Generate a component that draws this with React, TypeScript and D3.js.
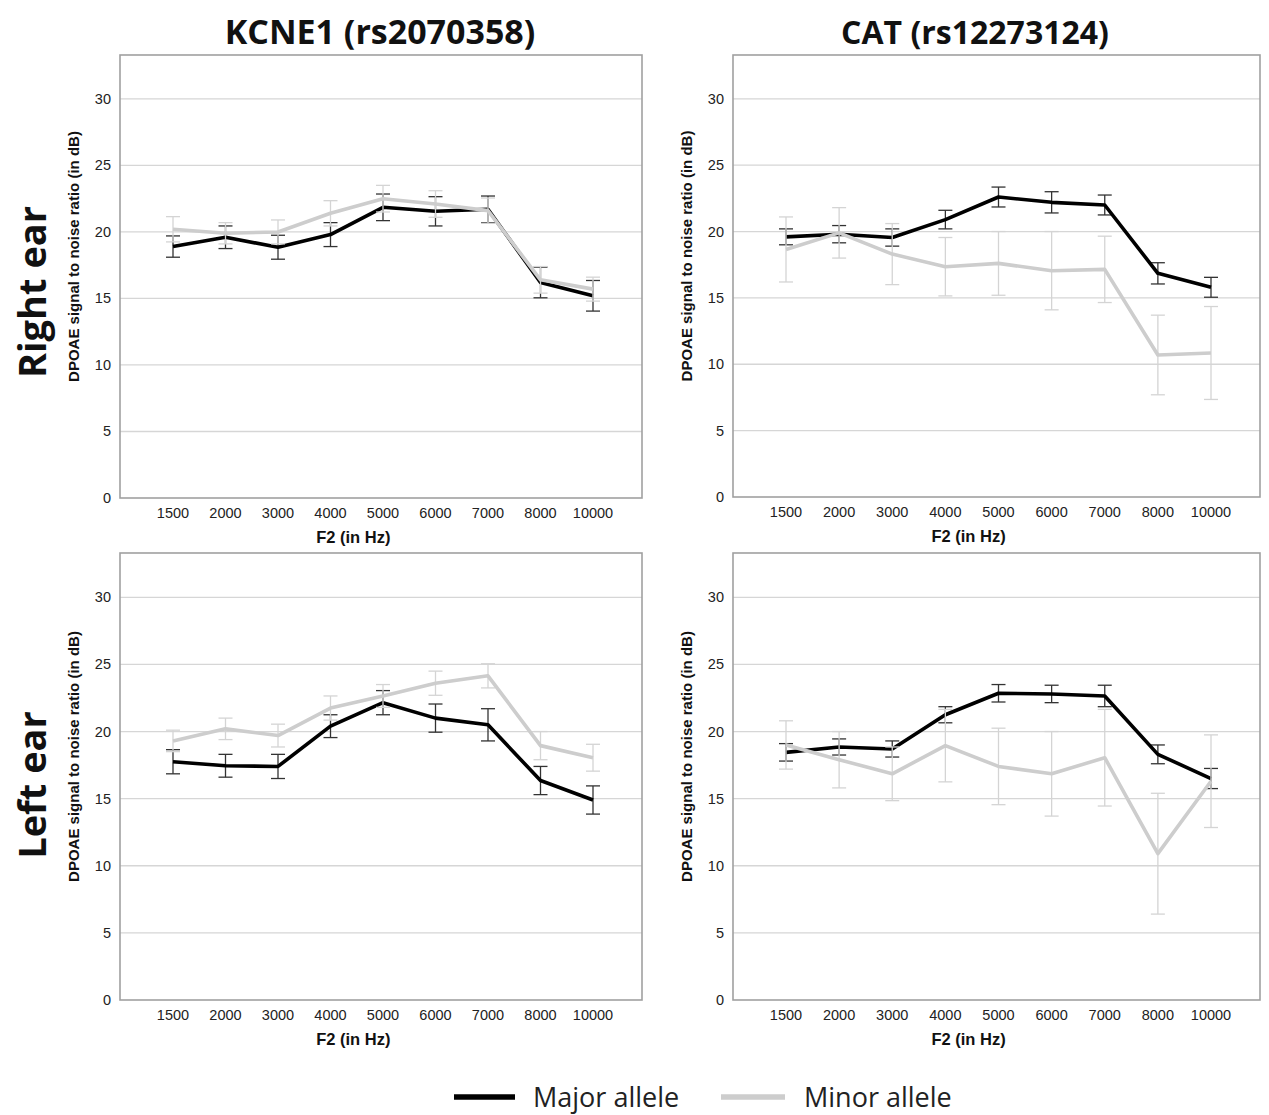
import React from "react";
import * as d3 from "d3";

// F2 frequencies (categorical x axis)
const freqs = ["1500", "2000", "3000", "4000", "5000", "6000", "7000", "8000", "10000"];
const yTicks = [0, 5, 10, 15, 20, 25, 30];

// KCNE1 (rs2070358), right ear
const kcneRightMajor = [18.9, 19.6, 18.85, 19.8, 21.85, 21.55, 21.7, 16.2, 15.2];
const kcneRightMajorErr = [0.8, 0.85, 0.9, 0.9, 1.0, 1.1, 1.0, 1.15, 1.15];
const kcneRightMinor = [20.2, 19.9, 20.0, 21.4, 22.5, 22.1, 21.6, 16.4, 15.7];
const kcneRightMinorErr = [0.95, 0.8, 0.9, 0.95, 1.0, 1.0, 0.95, 1.0, 0.9];

// CAT (rs12273124), right ear
const catRightMajor = [19.6, 19.8, 19.55, 20.9, 22.6, 22.2, 22.0, 16.85, 15.8];
const catRightMajorErr = [0.6, 0.65, 0.65, 0.7, 0.75, 0.8, 0.75, 0.8, 0.75];
const catRightMinor = [18.65, 19.9, 18.3, 17.35, 17.6, 17.05, 17.15, 10.7, 10.85];
const catRightMinorErr = [2.45, 1.9, 2.3, 2.2, 2.4, 2.95, 2.5, 3.0, 3.5];

// KCNE1 (rs2070358), left ear
const kcneLeftMajor = [17.75, 17.45, 17.4, 20.4, 22.15, 21.0, 20.5, 16.35, 14.9];
const kcneLeftMajorErr = [0.9, 0.85, 0.9, 0.85, 0.9, 1.05, 1.2, 1.05, 1.05];
const kcneLeftMinor = [19.3, 20.2, 19.7, 21.75, 22.65, 23.6, 24.15, 18.95, 18.05];
const kcneLeftMinorErr = [0.8, 0.8, 0.85, 0.9, 0.85, 0.9, 0.9, 1.05, 1.0];

// CAT (rs12273124), left ear
const catLeftMajor = [18.45, 18.85, 18.7, 21.25, 22.85, 22.8, 22.65, 18.3, 16.5];
const catLeftMajorErr = [0.65, 0.6, 0.6, 0.6, 0.65, 0.65, 0.8, 0.7, 0.75];
const catLeftMinor = [19.0, 17.9, 16.85, 18.95, 17.4, 16.85, 18.05, 10.9, 16.3];
const catLeftMinorErr = [1.8, 2.1, 2.0, 2.7, 2.85, 3.15, 3.6, 4.5, 3.45];

const MAJOR = "#000000";
const MINOR = "#cdcdcd";
const MAJOR_ERR = "#333333";
const MINOR_ERR = "#d4d4d4";

const axisFont = "'Liberation Sans', Arial, sans-serif";
const bigFont = "'Open Sans', sans-serif";

type PanelProps = {
  left: number; top: number; right: number; bottom: number;
  major: number[]; majorErr: number[]; minor: number[]; minorErr: number[];
};

const Series = ({ x, y, vals, errs, color, errColor }) => {
  const line = d3.line<number>().x((_, i) => x(freqs[i])).y(d => y(d));
  return (
    <g>
      {vals.map((v, i) => {
        const cx = x(freqs[i]);
        const lo = y(v - errs[i]);
        const hi = y(v + errs[i]);
        return (
          <g key={i} stroke={errColor} strokeWidth={1.3}>
            <line x1={cx} x2={cx} y1={lo} y2={hi} />
            <line x1={cx - 7} x2={cx + 7} y1={lo} y2={lo} />
            <line x1={cx - 7} x2={cx + 7} y1={hi} y2={hi} />
          </g>
        );
      })}
      <path d={line(vals) || ""} fill="none" stroke={color} strokeWidth={3.6} strokeLinejoin="round" />
    </g>
  );
};

const Panel = ({ left, top, right, bottom, major, majorErr, minor, minorErr }: PanelProps) => {
  const y = d3.scaleLinear().domain([0, 33.3]).range([bottom, top]);
  const x = d3.scalePoint<string>().domain(freqs).range([left + 53, right - 49]);
  const w = right - left;
  return (
    <g>
      {yTicks.filter(t => t > 0).map(t => (
        <line key={t} x1={left} x2={right} y1={y(t)} y2={y(t)} stroke="#d6d6d6" strokeWidth={1.3} />
      ))}
      <rect x={left} y={top} width={w} height={bottom - top} fill="none" stroke="#a0a0a0" strokeWidth={1.6} />
      {yTicks.map(t => (
        <text key={t} x={left - 9} y={y(t) + 5} textAnchor="end" fontFamily={axisFont} fontSize={14.5} fill="#222">{t}</text>
      ))}
      {freqs.map(f => (
        <text key={f} x={x(f)} y={bottom + 20} textAnchor="middle" fontFamily={axisFont} fontSize={14.5} fill="#222">{f}</text>
      ))}
      <text x={left + 0.447 * w} y={bottom + 45} textAnchor="middle" fontFamily={axisFont} fontWeight="bold" fontSize={16.5} fill="#111">F2 (in Hz)</text>
      <text transform={`translate(${left - 41},${(top + bottom) / 2 - 20}) rotate(-90)`} textAnchor="middle" fontFamily={axisFont} fontWeight="bold" fontSize={15} fill="#111">DPOAE signal to noise ratio (in dB)</text>
      <Series x={x} y={y} vals={major} errs={majorErr} color={MAJOR} errColor={MAJOR_ERR} />
      <Series x={x} y={y} vals={minor} errs={minorErr} color={MINOR} errColor={MINOR_ERR} />
    </g>
  );
};

export default function App() {
  return (
    <svg width={1269} height={1115} style={{ position: "absolute", left: 0, top: 0, background: "#fff" }}>
      <rect width={1269} height={1115} fill="#fff" />
      <text x={380} y={44} textAnchor="middle" fontFamily={bigFont} fontWeight="bold" fontSize={34} fill="#111">KCNE1 (rs2070358)</text>
      <text x={975} y={44} textAnchor="middle" fontFamily={bigFont} fontWeight="bold" fontSize={32} fill="#111">CAT (rs12273124)</text>
      <text transform="translate(46,292) rotate(-90)" textAnchor="middle" fontFamily={bigFont} fontWeight="bold" fontSize={38} fill="#111">Right ear</text>
      <text transform="translate(46,785) rotate(-90)" textAnchor="middle" fontFamily={bigFont} fontWeight="bold" fontSize={38} fill="#111">Left ear</text>

      <Panel left={120} top={55} right={642} bottom={498} major={kcneRightMajor} majorErr={kcneRightMajorErr} minor={kcneRightMinor} minorErr={kcneRightMinorErr} />
      <Panel left={733} top={55} right={1260} bottom={497} major={catRightMajor} majorErr={catRightMajorErr} minor={catRightMinor} minorErr={catRightMinorErr} />
      <Panel left={120} top={553} right={642} bottom={1000} major={kcneLeftMajor} majorErr={kcneLeftMajorErr} minor={kcneLeftMinor} minorErr={kcneLeftMinorErr} />
      <Panel left={733} top={553} right={1260} bottom={1000} major={catLeftMajor} majorErr={catLeftMajorErr} minor={catLeftMinor} minorErr={catLeftMinorErr} />

      <line x1={454} x2={515} y1={1097} y2={1097} stroke={MAJOR} strokeWidth={5.5} />
      <text x={533} y={1107} fontFamily={bigFont} fontSize={27} fill="#222">Major allele</text>
      <line x1={721} x2={785} y1={1097} y2={1097} stroke={MINOR} strokeWidth={5.5} />
      <text x={804} y={1107} fontFamily={bigFont} fontSize={27} fill="#222">Minor allele</text>
    </svg>
  );
}
